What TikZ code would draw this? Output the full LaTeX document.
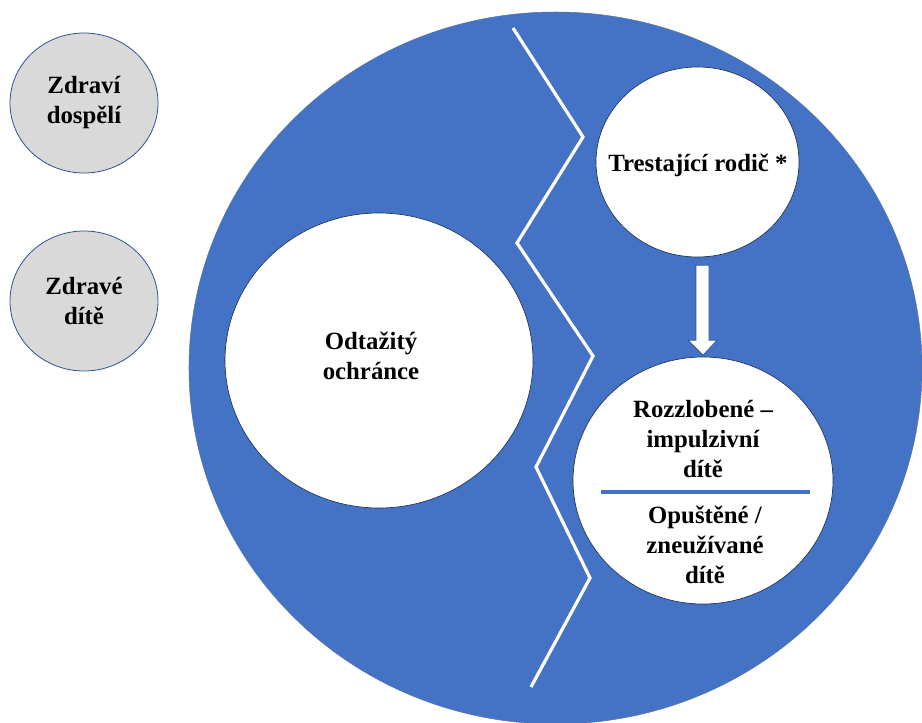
\documentclass[tikz,border=0pt]{standalone}
\usepackage{fontspec}
\setmainfont{Liberation Serif}[BoldFont={Liberation Serif Bold}]
\usetikzlibrary{shapes.geometric,calc}
\definecolor{bigblue}{HTML}{4472C4}
\definecolor{edgeblue}{HTML}{2F528F}
\definecolor{lightgray}{HTML}{D9D9D9}
\tikzset{
  txt/.style={font=\bfseries\fontsize{18.6}{22.5}\selectfont, align=center, text=black, inner sep=0pt},
  graycirc/.style={ellipse, draw=edgeblue, line width=0.6pt, fill=lightgray, minimum width=111pt, minimum height=105pt, inner sep=0pt, txt},
  whitecirc/.style={ellipse, draw=edgeblue!60!black, line width=0.5pt, fill=white, inner sep=0pt},
  zig/.style={draw=white, line width=2.4pt},
  divider/.style={draw=bigblue, line width=2.4pt},
  blockarrow/.style={fill=white, draw=edgeblue, line width=0.5pt},
}
\begin{document}
\begin{tikzpicture}[x=0.75pt,y=-0.75pt]
\useasboundingbox (0,0) rectangle (922,722);
\clip (0,0) rectangle (922,722);
% big blue disc
\node[ellipse, fill=bigblue, draw=edgeblue!80, line width=0.4pt, minimum width=549.75pt, minimum height=534pt, inner sep=0pt] (big) at (555.5,368) {};
% zigzag divider
\draw[zig] (513,28) -- (583,137) -- (517,243) -- (593,356) -- (536,467) -- (590,578) -- (531,687);
% grey circles
\node[graycirc] (adult) at (84,103) {Zdraví\\dospělí};
\node[graycirc] (child) at (84,301) {Zdravé\\dítě};
% detached protector
\node[whitecirc, minimum width=231pt, minimum height=221.25pt] (prot) at (379,360.5) {};
\node[txt] (protT) at (371,356) {Odtažitý\\ochránce};
% punishing parent
\node[whitecirc, minimum width=152.25pt, minimum height=142.5pt] (par) at (697.5,162) {};
\node[txt] (parT) at (698,165) {Trestající rodič *};
% child modes
\node[whitecirc, minimum width=195pt, minimum height=185.25pt] (bot) at (703,480.5) {};
\node[txt] (angry) at (703,439) {Rozzlobené –\\impulzivní\\dítě};
\node[txt] (aband) at (705,545) {Opuštěné /\\zneužívané\\dítě};
\draw[divider] ($(bot.center)+(-102,11.5)$) -- ($(bot.center)+(107,11.5)$);
% block arrow from parent to child modes
\coordinate (tip) at ($(bot.north)+(0,-1.5)$);
\draw[blockarrow] (tip) -- ++(14,-15) -- ++(-8,0) -- ++(0,-75) -- ++(-13,0) -- ++(0,75) -- ++(-8,0) -- cycle;
\end{tikzpicture}
\end{document}
